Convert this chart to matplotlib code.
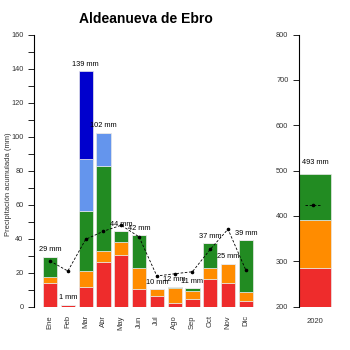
import numpy as np
import matplotlib as mpl
import matplotlib.pyplot as plt
mpl.rcParams['font.family'] = 'Liberation Sans'

# monthly data (mm), stacked by category
months = ['Ene', 'Feb', 'Mar', 'Abr', 'May', 'Jun',
          'Jul', 'Ago', 'Sep', 'Oct', 'Nov', 'Dic']
red = [14.3, 1.4, 11.5, 26.2, 30.3, 10.5, 6.4, 2.3, 4.7, 16.4, 14.3, 3.7]
orange = [3.5, 0, 9.8, 6.8, 7.6, 12.2, 4.0, 9.0, 4.7, 6.3, 11.1, 5.3]
green = [11.6, 0, 35.3, 49.8, 6.5, 19.5, 0, 0.6, 1.7, 14.7, 0, 30.3]
lightblue = [0, 0, 30.2, 19.6, 0, 0, 0, 0, 0, 0, 0, 0]
blue = [0, 0, 51.8, 0, 0, 0, 0, 0, 0, 0, 0, 0]
mean = [27.0, 21.1, 39.7, 44.5, 48.0, 41.2, 18.2, 19.5, 20.7, 33.8, 45.7, 21.7]

# annual data
year = ['2020']
year_red = [284.8]
year_orange = [106.6]
year_green = [101.6]
year_mean = 424.5

colors = ['#EE2C2C', '#FF8C00', '#228B22', '#6495ED', '#0000CD']

fig = plt.figure(figsize=(3.5, 3.5), dpi=100)
ax = fig.add_axes([0.097, 0.123, 0.651, 0.778])
ax2 = fig.add_axes([0.854, 0.124, 0.118, 0.777])

x = np.arange(len(months))
bottom = np.zeros(len(months))
for vals, c in zip([red, orange, green, lightblue, blue], colors):
    ax.bar(x, vals, 0.8, bottom=bottom, color=c, edgecolor='#e8e8e8', linewidth=0.5)
    bottom += np.array(vals)

for xi, tot in zip(x, bottom):
    ax.annotate('%d mm' % round(tot), (xi, tot), xytext=(0, 5),
                textcoords='offset points', ha='center', va='center', fontsize=5.3)

ax.plot(x, mean, 'k--', lw=0.6, marker='o', ms=1.6, dashes=(3, 2))

ax.set_xlim(-0.906, 11.9)
ax.set_ylim(0, 160)
ax.set_xticks(x)
ax.set_xticklabels(months, rotation=90, fontsize=5.5, color='#333333')
ax.tick_params(axis='x', length=0, pad=6)
ax.set_yticks(np.arange(0, 161, 20))
ax.set_yticks(np.arange(0, 161, 10), minor=True)
ax.tick_params(axis='y', labelsize=5.3, labelcolor='#333333', length=4, width=0.6)
ax.tick_params(axis='y', which='minor', length=4, width=0.6)
ax.set_ylabel('Precipitación acumulada (mm)', fontsize=5.5, color='#333333')
ax.yaxis.set_label_coords(-0.096, 0.45)
for s in ['top', 'right', 'bottom']:
    ax.spines[s].set_visible(False)
ax.spines['left'].set_linewidth(0.8)

# annual panel
yb = 0
for vals, c in zip([year_red, year_orange, year_green], colors):
    ax2.bar([0], vals, 1.0, bottom=yb, color=c, edgecolor='#e8e8e8', linewidth=0.5)
    yb += vals[0]
ax2.annotate('%d mm' % round(yb), (0, yb), xytext=(0, 8),
             textcoords='offset points', ha='center', va='center', fontsize=5.3)
ax2.plot([-0.3, 0.2], [year_mean, year_mean], 'k--', lw=0.6, dashes=(3, 2))
ax2.plot([-0.05], [year_mean], 'ko', ms=1.6)
ax2.set_xlim(-0.5, 0.78)
ax2.set_ylim(200, 800)
ax2.set_xticks([0])
ax2.set_xticklabels(year, fontsize=5.5, color='#333333')
ax2.tick_params(axis='x', length=0, pad=8)
ax2.set_yticks(np.arange(200, 801, 100))
ax2.tick_params(axis='y', labelsize=5.3, labelcolor='#333333', length=4, width=0.6)
for s in ['top', 'right', 'bottom']:
    ax2.spines[s].set_visible(False)
ax2.spines['left'].set_linewidth(0.8)

fig.text(0.417, 0.947, 'Aldeanueva de Ebro', ha='center', va='center',
         fontsize=10, fontweight='bold')

fig.savefig('out.png', dpi=100)
